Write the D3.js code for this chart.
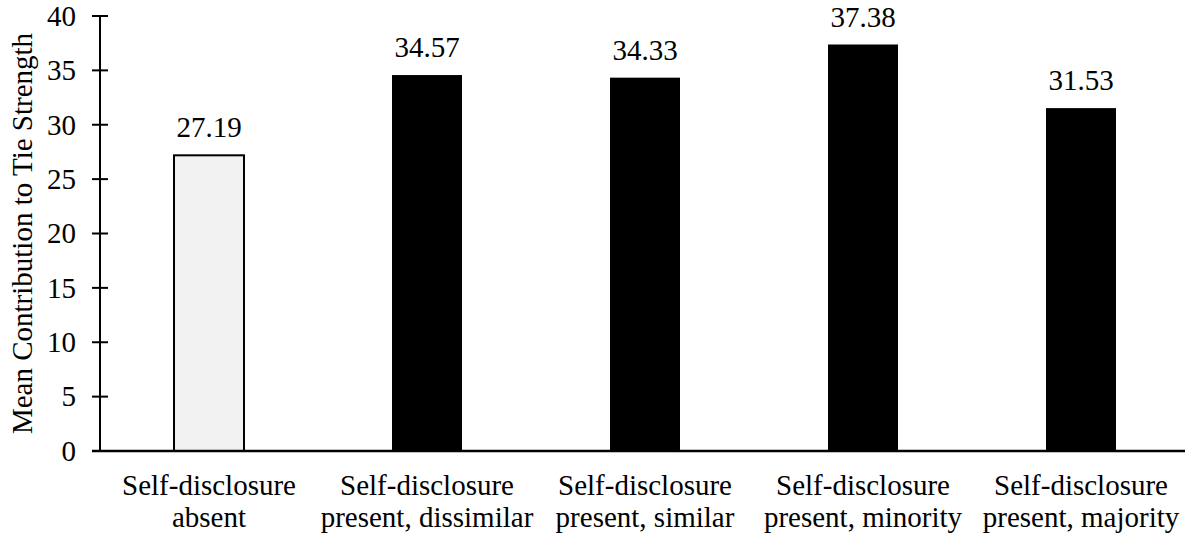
<!DOCTYPE html>
<html>
<head>
<meta charset="utf-8">
<script src="https://cdn.jsdelivr.net/npm/d3@7"></script>
</head>
<body style="margin: 0; background: #fff;">
<script>
// chart data
var categories = ['absent', 'dissimilar', 'similar', 'minority', 'majority'];
var labelLine1 = ['Self-disclosure', 'Self-disclosure', 'Self-disclosure', 'Self-disclosure', 'Self-disclosure'];
var labelLine2 = ['absent', 'present, dissimilar', 'present, similar', 'present, minority', 'present, majority'];
var values = [27.19, 34.57, 34.33, 37.38, 31.53];
var yTicks = [0, 5, 10, 15, 20, 25, 30, 35, 40];

var fontFamily = 'Times New Roman';

// define svg area
var svgWidth = 1185;
var svgHeight = 539;

var margin = { top: 16, right: -5, bottom: 88, left: 100 };
var chartWidth = svgWidth - margin.left - margin.right;
var chartHeight = svgHeight - margin.top - margin.bottom;

var svg = d3.select('body')
  .append('svg')
  .attr('width', svgWidth)
  .attr('height', svgHeight)
  .attr('font-family', fontFamily)
  .style('font-family', fontFamily);

var chartGroup = svg.append('g')
  .attr('transform', `translate(${margin.left}, ${margin.top})`);

var rows = categories.map(function(c, i) {
  return { key: c, value: values[i], l1: labelLine1[i], l2: labelLine2[i], i: i };
});

// scales
var xBandScale = d3.scaleBand()
  .domain(categories)
  .range([0, chartWidth])
  .paddingInner(0.679)
  .paddingOuter(0.3395);

var yLinearScale = d3.scaleLinear()
  .domain([0, 40])
  .range([chartHeight, 0]);

// bars
chartGroup.selectAll('rect.bar')
  .data(rows)
  .enter()
  .append('rect')
  .attr('class', 'bar')
  .attr('x', d => xBandScale(d.key))
  .attr('y', d => yLinearScale(d.value))
  .attr('width', xBandScale.bandwidth())
  .attr('height', d => chartHeight - yLinearScale(d.value))
  .attr('fill', d => d.i === 0 ? '#f2f2f2' : '#000')
  .attr('stroke', '#000')
  .attr('stroke-width', d => d.i === 0 ? 2 : 0);

// value labels
chartGroup.selectAll('text.value')
  .data(rows)
  .enter()
  .append('text')
  .attr('class', 'value')
  .attr('x', d => xBandScale(d.key) + xBandScale.bandwidth() / 2)
  .attr('y', d => yLinearScale(d.value) - 18)
  .attr('text-anchor', 'middle')
  .attr('font-family', fontFamily)
  .style('font-family', fontFamily)
  .style('font-size', '29px')
  .style('fill', '#000')
  .text(d => d.value.toFixed(2));

// y axis
var leftAxis = d3.axisLeft(yLinearScale)
  .tickValues(yTicks)
  .tickSize(0)
  .tickPadding(24);

var yAxis = chartGroup.append('g').call(leftAxis);
yAxis.attr('font-family', fontFamily).attr('font-size', 29);
yAxis.select('.domain').remove();
yAxis.selectAll('text')
  .attr('font-family', fontFamily)
  .style('font-family', fontFamily)
  .style('font-size', '29px')
  .style('fill', '#000');

chartGroup.append('line')
  .attr('x1', 0).attr('x2', 0)
  .attr('y1', 0).attr('y2', chartHeight)
  .attr('stroke', '#000').attr('stroke-width', 2);

chartGroup.selectAll('line.ytick')
  .data(yTicks)
  .enter()
  .append('line')
  .attr('class', 'ytick')
  .attr('x1', -8).attr('x2', 8)
  .attr('y1', d => yLinearScale(d)).attr('y2', d => yLinearScale(d))
  .attr('stroke', '#000').attr('stroke-width', 2);

// baseline
chartGroup.append('line')
  .attr('x1', -8).attr('x2', chartWidth)
  .attr('y1', chartHeight).attr('y2', chartHeight)
  .attr('stroke', '#000').attr('stroke-width', 2.5);

// category labels
var catLabels = chartGroup.selectAll('text.cat')
  .data(rows)
  .enter()
  .append('text')
  .attr('class', 'cat')
  .attr('text-anchor', 'middle')
  .attr('font-family', fontFamily)
  .style('font-family', fontFamily)
  .style('font-size', '29px')
  .style('fill', '#000')
  .attr('transform', d => `translate(${xBandScale(d.key) + xBandScale.bandwidth() / 2}, ${chartHeight + 44})`);

catLabels.append('tspan').attr('x', 0).attr('y', 0).text(d => d.l1);
catLabels.append('tspan').attr('x', 0).attr('y', 32).text(d => d.l2);

// y axis title
svg.append('text')
  .attr('transform', `translate(32, ${margin.top + chartHeight / 2}) rotate(-90)`)
  .attr('text-anchor', 'middle')
  .attr('font-family', fontFamily)
  .style('font-family', fontFamily)
  .style('font-size', '29px')
  .style('fill', '#000')
  .text('Mean Contribution to Tie Strength');
</script>
</body>
</html>
